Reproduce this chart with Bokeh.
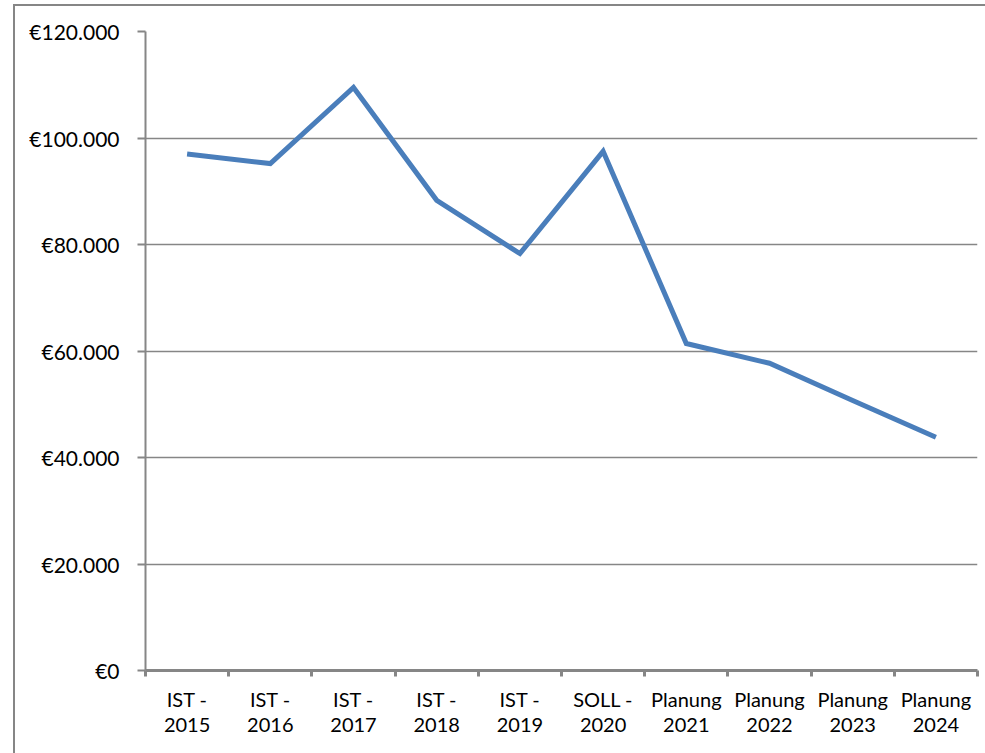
from bokeh.plotting import figure
from bokeh.models import FixedTicker, Range1d
from bokeh.embed import file_html
from bokeh.resources import INLINE

categories = ["IST -\n2015", "IST -\n2016", "IST -\n2017", "IST -\n2018", "IST -\n2019",
              "SOLL -\n2020", "Planung\n2021", "Planung\n2022", "Planung\n2023", "Planung\n2024"]
values = [97000, 95200, 109500, 88300, 78300, 97500, 61400, 57700, 50700, 43800]
y_ticks = [0, 20000, 40000, 60000, 80000, 100000, 120000]

GRAY = "#868686"
FONT = "Lato"

x_pos = [i + 0.5 for i in range(len(categories))]

p = figure(width=985, height=753, output_backend="svg", toolbar_location=None,
           x_range=Range1d(0, len(categories)), y_range=Range1d(0, 120000),
           min_border_left=145, min_border_top=31, min_border_right=8, min_border_bottom=83)
p.outline_line_color = None
p.background_fill_color = "white"
p.border_fill_color = None
p.styles = {
    "background": ("linear-gradient(#868686,#868686) 13px 5px / 2px 100% no-repeat, "
                   "linear-gradient(#868686,#868686) 13px 4px / 100% 2px no-repeat, white"),
}

p.line(x_pos, values, line_color="#4A7EBB", line_width=5, line_join="miter")

# y axis
ya = p.yaxis[0]
ya.ticker = FixedTicker(ticks=y_ticks, minor_ticks=[])
ya.major_label_overrides = {v: "€" + f"{v:,}".replace(",", ".") for v in y_ticks}
ya.axis_line_color = GRAY
ya.axis_line_width = 2
ya.major_tick_line_color = GRAY
ya.major_tick_line_width = 2
ya.major_tick_in = 0
ya.major_tick_out = 8
ya.minor_tick_line_color = None
ya.major_label_standoff = 18
ya.major_label_text_font = FONT
ya.major_label_text_font_size = "21px"
ya.major_label_text_color = "black"

# x axis
xa = p.xaxis[0]
xa.ticker = FixedTicker(ticks=x_pos, minor_ticks=list(range(len(categories) + 1)))
xa.major_label_overrides = {x: c for x, c in zip(x_pos, categories)}
xa.axis_line_color = GRAY
xa.axis_line_width = 3
xa.major_tick_line_color = None
xa.major_tick_in = 0
xa.major_tick_out = 0
xa.minor_tick_line_color = GRAY
xa.minor_tick_line_width = 3
xa.minor_tick_in = 0
xa.minor_tick_out = 6
xa.major_label_standoff = 10
xa.major_label_text_font = FONT
xa.major_label_text_font_size = "20px"
xa.major_label_text_color = "black"
xa.major_label_text_line_height = 1.05

p.xgrid.grid_line_color = None
p.ygrid.grid_line_color = GRAY
p.ygrid.grid_line_width = 1.5

open("out.html", "w").write(file_html(p, INLINE))
